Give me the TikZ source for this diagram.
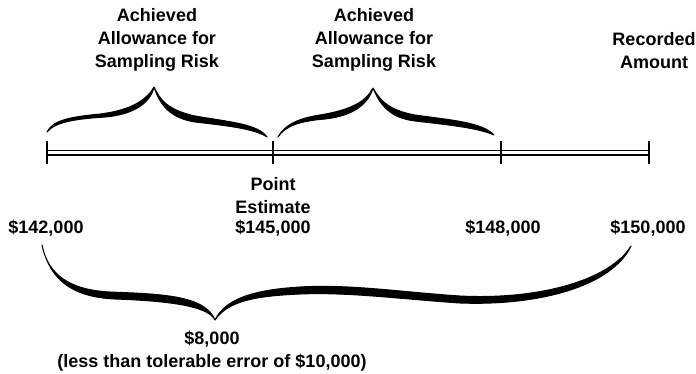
\documentclass[tikz,border=0pt]{standalone}
\usepackage{fontspec}
\setmainfont{Liberation Sans}
\begin{document}
\begin{tikzpicture}[x=1pt,y=-1pt,
  lbl/.style={font=\bfseries\fontsize{18}{22.8}\selectfont, inner sep=0pt, align=center, anchor=base},
  numline/.style={line width=1.2pt},
  tickmark/.style={line width=2.6pt},
  bracefill/.style={fill=black, draw=black, line width=1pt, line join=round, line cap=round}]
\useasboundingbox (0,0) rectangle (696,373);

% number line
\coordinate (t1) at (47,152.5);
\coordinate (t2) at (273,152.5);
\coordinate (t3) at (501,152.5);
\coordinate (t4) at (649,152.5);
\draw[numline] ([yshift=2.4pt]t1) -- ([yshift=2.4pt]t4);
\draw[numline] ([yshift=-2.4pt]t1) -- ([yshift=-2.4pt]t4);
\foreach \t in {t1,t2,t3,t4}
  \draw[tickmark] ([yshift=12pt]\t) -- ([yshift=-11pt]\t);

% top brace 1
\path[bracefill] (47,132) .. controls (53,120) and (70,117) .. (100,114)
  .. controls (125,111) and (145,103) .. (154,87)
  .. controls (160,100) and (168,110) .. (195,116)
  .. controls (230,122) and (258,124) .. (267,137)
  .. controls (255,129) and (230,126) .. (195,122)
  .. controls (170,118) and (160,105) .. (154,87)
  .. controls (150,105) and (130,115) .. (105,117)
  .. controls (75,119) and (55,122) .. (47,132) -- cycle;

% top brace 2
\path[bracefill] (278,137) .. controls (285,124) and (300,118) .. (320,115)
  .. controls (350,110) and (366,102) .. (373,88)
  .. controls (380,100) and (388,110) .. (415,115)
  .. controls (450,120) and (482,122) .. (494,135)
  .. controls (478,128) and (450,125) .. (415,121)
  .. controls (390,118) and (380,105) .. (373,88)
  .. controls (368,105) and (352,116) .. (325,119)
  .. controls (300,121) and (285,126) .. (278,137) -- cycle;

% bottom brace
\path[bracefill] (42,245) .. controls (48,275) and (70,290) .. (110,292)
  .. controls (160,294) and (205,295) .. (215,320)
  .. controls (225,300) and (250,290) .. (300,287)
  .. controls (350,284) and (400,292) .. (460,296)
  .. controls (540,300) and (610,280) .. (631,246)
  .. controls (612,286) and (540,306) .. (460,303)
  .. controls (400,299) and (350,292) .. (300,294)
  .. controls (255,296) and (228,301) .. (215,320)
  .. controls (208,306) and (170,301) .. (115,299)
  .. controls (72,297) and (50,280) .. (42,245) -- cycle;

% labels
\node[lbl] (aas1) at (157,67) {Achieved\\Allowance for\\Sampling Risk};
\node[lbl] (aas2) at (374,67) {Achieved\\Allowance for\\Sampling Risk};
\node[lbl] (rec) at (654,68) {Recorded\\Amount};
\node[lbl] (pe) at (273,213) {Point\\Estimate};
\node[lbl] (v1) at (46,233) {\$142,000};
\node[lbl] (v2) at (273,233) {\$145,000};
\node[lbl] (v3) at (503,233) {\$148,000};
\node[lbl] (v4) at (648,233) {\$150,000};
\node[lbl] (diff) at (212,367) {\$8,000\\(less than tolerable error of \$10,000)};
\end{tikzpicture}
\end{document}
